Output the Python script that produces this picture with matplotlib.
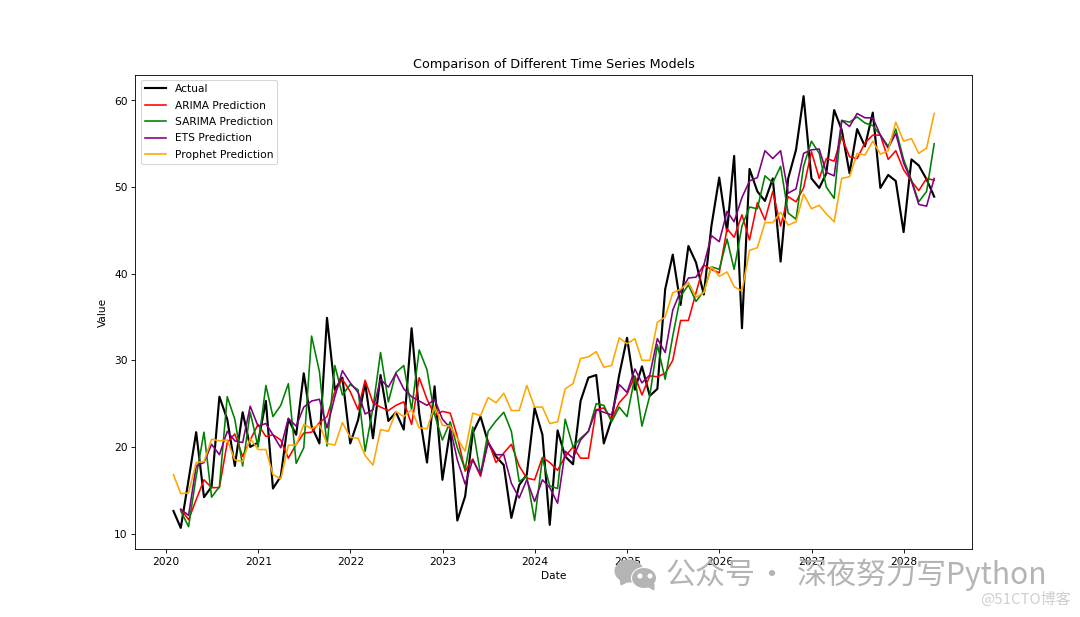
import pandas as pd
import matplotlib.pyplot as plt
from matplotlib.patches import Ellipse, Polygon
from matplotlib.transforms import IdentityTransform

plt.rcParams['font.size'] = 9.9

# values, monthly from 2020-01
dates = pd.date_range('2020-01-31', periods=100, freq='ME')

actual = [12.6, 10.65, 16.2, 21.7, 14.2, 15.4, 25.8, 23.2, 17.8, 24.0,
          20.0, 20.5, 25.3, 15.2, 16.6, 23.2, 21.4, 28.5, 22.4, 20.4,
          34.9, 26.6, 28.0, 20.4, 23.1, 27.4, 21.0, 28.3, 23.0, 24.0,
          22.0, 33.7, 23.9, 18.2, 27.0, 16.2, 22.0, 11.5, 14.3, 21.6,
          23.5, 20.5, 18.9, 17.9, 11.8, 15.6, 16.8, 24.5, 21.4, 11.0,
          21.9, 18.9, 18.0, 25.3, 28.0, 28.3, 20.4, 23.2, 28.3, 32.6,
          26.6, 29.3, 25.9, 26.7, 38.2, 42.2, 36.4, 43.2, 41.3, 37.6,
          45.5, 51.1, 44.9, 53.6, 33.7, 52.1, 49.5, 48.4, 51.0, 41.4,
          51.0, 54.3, 60.5, 51.0, 49.9, 51.6, 58.9, 56.6, 51.6, 56.7,
          54.7, 58.6, 49.9, 51.4, 50.7, 44.8, 53.2, 52.5, 50.9, 48.9]

arima = [12.8, 11.6, 13.9, 16.2, 15.3, 15.3, 20.5, 21.5, 18.9,
         20.8, 22.6, 21.2, 21.4, 20.8, 18.7, 20.3, 21.6, 21.7, 22.8,
         23.5, 26.4, 27.8, 26.4, 24.3, 27.7, 25.1, 24.6, 24.2, 24.8,
         25.2, 22.6, 28.0, 25.5, 23.7, 24.1, 23.9, 21.2, 17.2, 18.6,
         16.6, 20.7, 18.2, 19.3, 20.3, 17.8, 16.4, 16.2, 18.8, 18.2,
         17.3, 18.9, 20.0, 18.7, 18.7, 24.3, 24.5, 23.2, 25.1, 26.1,
         28.2, 26.0, 28.2, 28.1, 28.5, 30.0, 34.6, 34.6, 37.8, 41.0,
         40.5, 40.1, 45.2, 44.2, 46.8, 43.9, 48.2, 46.2, 49.5, 45.5,
         48.9, 48.3, 49.9, 54.1, 51.0, 53.3, 53.0, 55.8, 53.5, 53.3,
         55.1, 56.0, 56.0, 53.2, 54.2, 52.0, 50.7, 49.6, 51.0, 50.8]

sarima = [12.6, 10.8, 16.6, 21.7, 14.2, 15.4, 25.8, 23.2, 17.8,
          24.0, 20.0, 27.1, 23.5, 24.8, 27.3, 18.1, 19.9, 32.8, 28.7,
          20.1, 29.4, 26.0, 27.2, 26.6, 19.5, 24.5, 30.9, 25.2, 28.6,
          29.4, 24.3, 31.2, 28.9, 23.7, 20.8, 22.9, 19.9, 17.4, 22.3,
          16.8, 21.8, 23.0, 24.0, 21.8, 16.0, 16.6, 11.5, 18.7, 15.5,
          15.2, 23.2, 20.0, 21.0, 21.8, 25.0, 24.8, 22.9, 24.6, 23.5,
          28.1, 22.4, 25.9, 31.8, 27.8, 32.8, 37.4, 38.7, 36.8, 38.0,
          40.8, 40.5, 44.0, 40.5, 45.5, 47.7, 47.5, 51.3, 50.5, 52.4,
          47.0, 46.3, 52.4, 55.3, 53.9, 50.0, 48.7, 57.7, 57.5, 58.1,
          57.4, 57.1, 56.0, 54.7, 56.7, 53.2, 50.8, 48.3, 49.5, 55.0]

ets = [12.8, 12.1, 17.8, 18.2, 20.3, 19.1, 21.8, 20.7, 20.5,
       24.7, 22.4, 22.7, 21.4, 19.9, 23.3, 22.4, 24.6, 25.3, 25.5,
       22.2, 25.8, 28.8, 27.4, 26.3, 23.8, 24.3, 27.8, 26.9, 28.5,
       26.7, 25.8, 25.3, 24.8, 25.5, 23.2, 22.2, 18.5, 15.7, 18.5,
       16.8, 20.5, 19.1, 19.1, 15.8, 14.1, 16.2, 13.7, 16.2, 15.3,
       13.5, 19.5, 18.7, 20.8, 21.8, 24.3, 24.0, 23.7, 27.2, 26.3,
       29.0, 27.4, 28.3, 32.5, 30.9, 35.8, 38.0, 39.5, 39.6, 41.0,
       44.4, 43.7, 47.2, 46.0, 48.8, 50.7, 51.1, 54.2, 53.3, 54.2,
       49.3, 49.8, 53.9, 54.3, 54.4, 51.7, 51.3, 57.7, 57.0, 58.5,
       58.0, 58.0, 56.0, 54.5, 56.2, 52.8, 50.7, 48.0, 47.8, 51.0]

prophet = [16.8, 14.6, 14.7, 18.2, 18.3, 20.9, 20.7, 20.8, 18.5, 18.3,
           21.0, 19.7, 19.7, 16.8, 16.3, 20.2, 20.2, 22.6, 22.1, 22.6,
           20.4, 20.2, 22.8, 21.1, 21.0, 19.0, 17.9, 22.0, 21.8, 24.1,
           23.5, 24.3, 22.2, 22.1, 24.7, 22.5, 22.4, 21.0, 19.5, 23.9,
           23.6, 25.7, 25.1, 26.2, 24.2, 24.2, 27.1, 24.6, 24.6, 22.7,
           22.9, 26.7, 27.3, 30.2, 30.4, 31.0, 29.2, 29.4, 32.6, 31.9,
           32.5, 30.0, 30.0, 34.4, 35.0, 37.8, 38.2, 39.0, 37.3, 37.8,
           40.8, 39.7, 40.2, 38.5, 38.0, 42.7, 43.0, 45.9, 45.9, 47.1,
           45.6, 46.0, 49.2, 47.5, 47.9, 46.9, 46.0, 51.0, 51.2, 53.9,
           53.7, 55.3, 53.8, 54.2, 57.5, 55.3, 55.6, 53.9, 54.5, 58.5]

fig = plt.figure(figsize=(14, 8), dpi=1080 / 14)
ax = fig.add_axes([135.4 / 1080, 1 - 549.5 / 617, 836.8 / 1080, 474.8 / 617])

ax.plot(dates, actual, color='black', linewidth=2, label='Actual')
ax.plot(dates[1:], arima, color='red', label='ARIMA Prediction')
ax.plot(dates[1:], sarima, color='green', label='SARIMA Prediction')
ax.plot(dates[1:], ets, color='purple', label='ETS Prediction')
ax.plot(dates, prophet, color='orange', label='Prophet Prediction')

ax.set_title('Comparison of Different Time Series Models')
ax.set_xlabel('Date')
ax.set_ylabel('Value', labelpad=6)
ax.legend(loc='upper left', labelspacing=0.6)

# watermark, in pixels of the figure
gray = '#b4b4b4'
trans = IdentityTransform()
H = 617
fig.add_artist(Ellipse((629, H - 571), 28, 22, color=gray, transform=trans))
fig.add_artist(Polygon([(620, H - 578), (621, H - 585), (629, H - 581)], color=gray, transform=trans))
fig.add_artist(Ellipse((644, H - 578), 25, 21, ec='white', lw=1, fc=gray, transform=trans))
fig.add_artist(Polygon([(647, H - 586), (654, H - 590), (654, H - 584)], color=gray, transform=trans))
for ex in (640, 650):
    fig.add_artist(Ellipse((ex, H - 576), 4, 4, color='white', transform=trans))
cjk = ['Noto Sans CJK SC', 'DejaVu Sans']
fig.text(665 / 1080, 1 - 575 / 617, '公众号', color=gray, fontsize=28, va='center', family=cjk)
fig.text(771 / 1080, 1 - 575 / 617, '·', color=gray, fontsize=28, va='center', ha='center', family=cjk)
fig.text(1047 / 1080, 1 - 575 / 617, '深夜努力写Python', color=gray, fontsize=28, va='center', ha='right', family=cjk)
fig.text(1071 / 1080, 1 - 599 / 617, '@51CTO博客', color='#cfcfcf', fontsize=14, ha='right',
         va='center', family=cjk)

plt.savefig('out.png', dpi=1080 / 14)
